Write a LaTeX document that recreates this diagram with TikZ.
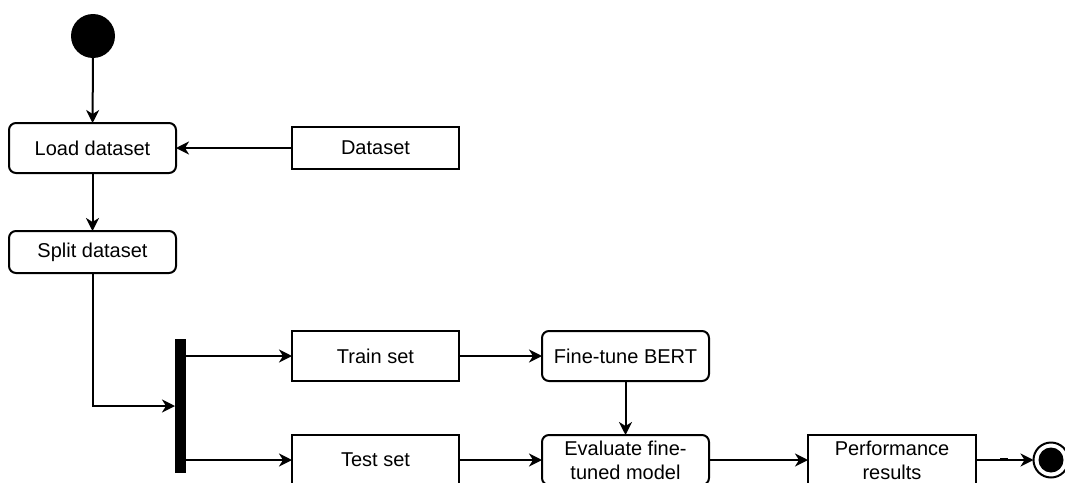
\documentclass[tikz,border=0pt]{standalone}
\usepackage{fontspec}
\setmainfont{Liberation Sans}
\usetikzlibrary{arrows.meta}
\begin{document}
\begin{tikzpicture}[x=1pt,y=-1pt,
  every node/.style={inner sep=0pt,outer sep=0pt,font=\fontsize{20}{24}\selectfont},
  act/.style={draw,line width=2pt,rounded corners=7pt,minimum width=167pt,align=center},
  obj/.style={draw,line width=2pt,minimum width=167pt,align=center},
  flow/.style={line width=2pt,-{Stealth[length=13pt,width=13pt,inset=4pt]}}]
\useasboundingbox (0,0) rectangle (1065,482);
\clip (0,0) rectangle (1065,482);
\node[circle,fill=black,minimum size=44pt] (start) at (93,36) {};
\node[act,minimum height=50pt] (load) at (92.5,148) {Load dataset};
\node[obj,minimum height=42pt] (dataset) at (375.5,148) {Dataset};
\node[act,minimum height=42pt] (split) at (92.5,252) {Split dataset};
\node[fill=black,minimum width=11pt,minimum height=134pt] (bar) at (180.5,406) {};
\node[obj,minimum height=50pt] (train) at (375.5,356) {Train set};
\node[obj,minimum height=50pt] (test) at (375.5,460) {Test set};
\node[act,minimum height=50pt] (fine) at (625.5,356) {Fine-tune BERT};
\node[act,minimum height=50pt] (eval) at (625.5,460) {Evaluate fine-\\tuned model};
\node[obj,minimum height=50pt,minimum width=168pt] (perf) at (892,460) {Performance\\results};
\node[circle,draw,line width=2pt,fill=white,minimum size=35pt] (end) at (1051,460) {};
\fill (end.center) circle (12.5pt);
\draw[flow] (start) -- (load);
\draw[flow] (dataset) -- (load);
\draw[flow] (load) -- (split);
\draw[flow] (split.south) |- (bar.west);
\draw[flow] (bar.east |- train) -- (train.west);
\draw[flow] (bar.east |- test) -- (test.west);
\draw[flow] (train) -- (fine);
\draw[flow] (fine) -- (eval);
\draw[flow] (test) -- (eval);
\draw[flow] (eval) -- (perf);
\draw[flow] (perf) -- (end);
\draw[line width=3pt] (1000,459) -- (1008,459);
\end{tikzpicture}
\end{document}
